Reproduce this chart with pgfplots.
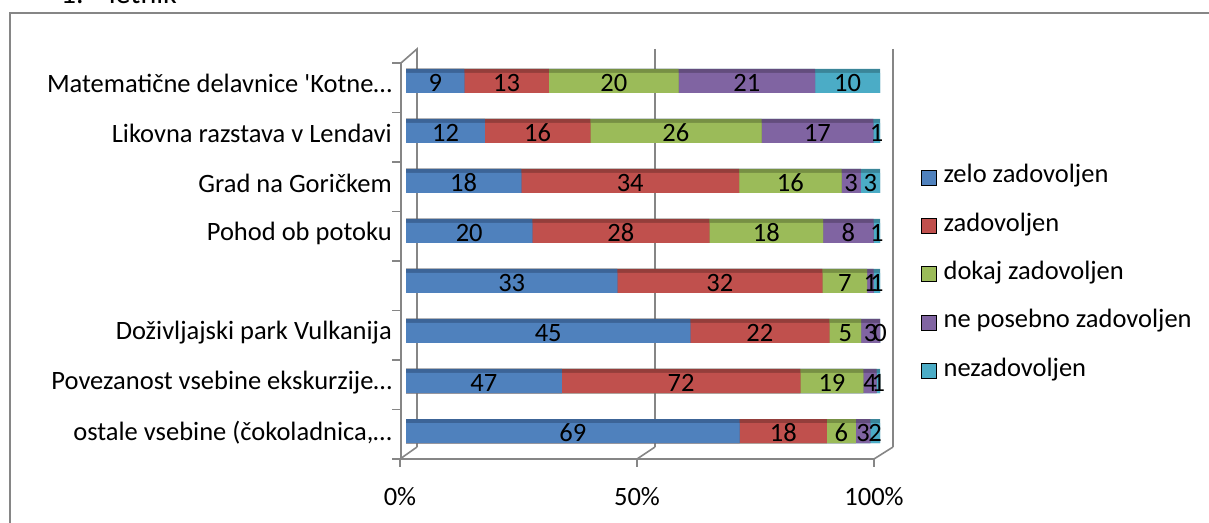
\documentclass[border=0pt]{standalone}
\usepackage{fontspec}
\setmainfont{Carlito}
\usepackage{pgfplots}
\usepackage{pgfplotstable}
\pgfplotsset{compat=1.18}

\definecolor{cblue}{HTML}{4F81BD}
\definecolor{cred}{HTML}{C0504D}
\definecolor{cgreen}{HTML}{9BBB59}
\definecolor{cpurple}{HTML}{8064A2}
\definecolor{ccyan}{HTML}{4BACC6}
\definecolor{dblue}{HTML}{3C6497}
\definecolor{dred}{HTML}{943E3B}
\definecolor{dgreen}{HTML}{779044}
\definecolor{dpurple}{HTML}{634D7D}
\definecolor{dcyan}{HTML}{3A8599}
\definecolor{wall}{HTML}{868686}

% rows bottom to top: zelo, zadovoljen, dokaj, ne posebno, nezadovoljen
\pgfplotstableread{
y a b c d e
0 69 18 6 3 2
1 47 72 19 4 1
2 45 22 5 3 0
3 33 32 7 1 1
4 20 28 18 8 1
5 18 34 16 3 3
6 12 16 26 17 1
7 9 13 20 21 10
}\data

\newcommand\tot{(\thisrow{a}+\thisrow{b}+\thisrow{c}+\thisrow{d}+\thisrow{e})}
\newcommand\fnt{\fontsize{26.5}{31}\selectfont}

\begin{document}
\begin{tikzpicture}
\useasboundingbox (0,0) rectangle (1209pt,522pt);

% frame, title and 3-D walls, in pixel units (y downwards)
\begin{scope}[x=1pt,y=-1pt,yshift=522pt,line width=1.6pt,wall]
  \draw (10,530) -- (10,13) -- (1215,13);
  \node[anchor=base west,inner sep=0pt,text=black,font=\fontsize{30}{34}\selectfont] at (60,4) {1.};
  \node[anchor=base west,inner sep=0pt,text=black,font=\fontsize{30}{34}\selectfont] at (108,4) {letnik};
  % left wall
  \draw (401,459) -- (401,63) -- (417,49) -- (417,447);
  \foreach \k in {0,...,7} \draw (392,{63+49.5*\k}) -- (401,{63+49.5*\k});
  % back wall gridlines
  \draw (655,49) -- (655,447);
  \draw (893,49) -- (893,447);
  % floor
  \draw (392,459) -- (874,459);
  \foreach \a/\b in {400/417,637/655,874/893} {
    \draw (\a,459) -- (\b,447);
    \draw (\a,459) -- (\a,467);
  }
\end{scope}

\begin{axis}[
    at={(406pt,64pt)}, anchor=south west,
    scale only axis, width=474pt, height=400pt,
    xmin=0, xmax=100, ymin=-0.5, ymax=7.5,
    enlargelimits=false, clip=false,
    axis line style={draw=none},
    tick style={draw=none},
    /pgf/number format/assume math mode=true,
    xtick={0,50,100},
    xticklabels={0\%,50\%,100\%},
    xticklabel style={font=\fnt, anchor=center, inner sep=0pt, xshift=-6pt, yshift=-39pt},
    ytick={0,...,7},
    yticklabels={{ostale vsebine (čokoladnica,…},{Povezanost vsebine ekskurzije…},
      {Doživljajski park Vulkanija},{},{Pohod ob potoku},{Grad na Goričkem},
      {Likovna razstava v Lendavi},{Matematične delavnice \textquotesingle Kotne…}},
    yticklabel style={font=\fnt, anchor=east, inner sep=0pt, xshift=-14pt},
    legend image code/.code={\fill[#1] (0pt,-7.5pt) rectangle (15pt,7.5pt);},
    legend style={at={(1.0865,0.46)}, anchor=west, draw=none, fill=none,
      font=\fnt, inner sep=0pt, row sep=25.3pt,
      nodes={inner sep=0pt, text height=17pt, text depth=6pt},
      /tikz/every odd column/.append style={column sep=7pt}},
    legend cell align=left,
    nodes near coords style={font=\fnt, text=black, anchor=center, inner sep=0pt},
  ]
  \addlegendimage{fill=cblue}
  \addlegendimage{fill=cred}
  \addlegendimage{fill=cgreen}
  \addlegendimage{fill=cpurple}
  \addlegendimage{fill=ccyan}
  \legend{zelo zadovoljen,zadovoljen,dokaj zadovoljen,ne posebno zadovoljen,nezadovoljen}

  % bars as cumulative shares, longest first
  \addplot[xbar, forget plot, draw=none, fill=dcyan, bar width=24pt, bar shift=2pt]
    table[y=y, x expr={100}] {\data};
  \addplot[xbar, forget plot, draw=none, fill=ccyan, bar width=20pt]
    table[y=y, x expr={100}] {\data};
  \addplot[xbar, forget plot, draw=none, fill=dpurple, bar width=24pt, bar shift=2pt]
    table[y=y, x expr={100*(\thisrow{a}+\thisrow{b}+\thisrow{c}+\thisrow{d})/\tot}] {\data};
  \addplot[xbar, forget plot, draw=none, fill=cpurple, bar width=20pt]
    table[y=y, x expr={100*(\thisrow{a}+\thisrow{b}+\thisrow{c}+\thisrow{d})/\tot}] {\data};
  \addplot[xbar, forget plot, draw=none, fill=dgreen, bar width=24pt, bar shift=2pt]
    table[y=y, x expr={100*(\thisrow{a}+\thisrow{b}+\thisrow{c})/\tot}] {\data};
  \addplot[xbar, forget plot, draw=none, fill=cgreen, bar width=20pt]
    table[y=y, x expr={100*(\thisrow{a}+\thisrow{b}+\thisrow{c})/\tot}] {\data};
  \addplot[xbar, forget plot, draw=none, fill=dred, bar width=24pt, bar shift=2pt]
    table[y=y, x expr={100*(\thisrow{a}+\thisrow{b})/\tot}] {\data};
  \addplot[xbar, forget plot, draw=none, fill=cred, bar width=20pt]
    table[y=y, x expr={100*(\thisrow{a}+\thisrow{b})/\tot}] {\data};
  \addplot[xbar, forget plot, draw=none, fill=dblue, bar width=24pt, bar shift=2pt]
    table[y=y, x expr={100*\thisrow{a}/\tot}] {\data};
  \addplot[xbar, forget plot, draw=none, fill=cblue, bar width=20pt]
    table[y=y, x expr={100*\thisrow{a}/\tot}] {\data};

  % value labels in the middle of each segment
  \addplot[forget plot, draw=none, mark=none, nodes near coords, point meta=explicit]
    table[y=y, x expr={100*(\thisrow{a}/2)/\tot}, meta=a] {\data};
  \addplot[forget plot, draw=none, mark=none, nodes near coords, point meta=explicit]
    table[y=y, x expr={100*(\thisrow{a}+\thisrow{b}/2)/\tot}, meta=b] {\data};
  \addplot[forget plot, draw=none, mark=none, nodes near coords, point meta=explicit]
    table[y=y, x expr={100*(\thisrow{a}+\thisrow{b}+\thisrow{c}/2)/\tot}, meta=c] {\data};
  \addplot[forget plot, draw=none, mark=none, nodes near coords, point meta=explicit]
    table[y=y, x expr={100*(\thisrow{a}+\thisrow{b}+\thisrow{c}+\thisrow{d}/2)/\tot}, meta=d] {\data};
  \addplot[forget plot, draw=none, mark=none, nodes near coords, point meta=explicit]
    table[y=y, x expr={100*(\thisrow{a}+\thisrow{b}+\thisrow{c}+\thisrow{d}+\thisrow{e}/2)/\tot}, meta=e] {\data};
\end{axis}
\end{tikzpicture}
\end{document}
